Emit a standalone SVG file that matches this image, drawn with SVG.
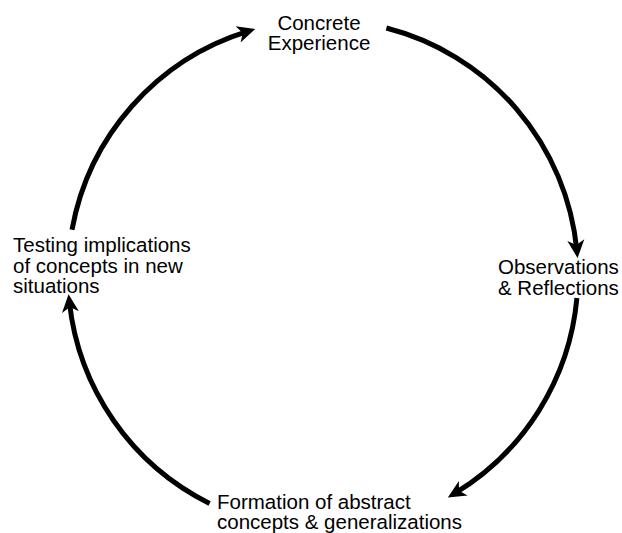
<svg xmlns="http://www.w3.org/2000/svg" width="622" height="533" viewBox="0 0 622 533">
<style>
.lbl{font-family:"Liberation Sans",Arial,sans-serif;font-size:20.5px;fill:#000}
.arc{fill:none;stroke:#000;stroke-width:5;marker-end:url(#ah)}
</style>
<defs>
<marker id="ah" markerUnits="userSpaceOnUse" markerWidth="20" markerHeight="20" viewBox="0 -10 20 20" refX="10" refY="0" orient="auto">
<path d="M0,-8.5 L18,0 L0,8.5 L5,0 Z" fill="#000"/>
</marker>
</defs>
<rect width="622" height="533" fill="#fff"/>
<g id="connectors">
<path class="arc" d="M386.4,28 A255,255 0 0 1 576.8,250.1"/>
<path class="arc" d="M576.9,298.1 A255,255 0 0 1 454.7,493.4"/>
<path class="arc" d="M209.6,503.4 A255,255 0 0 1 69.4,302.1"/>
<path class="arc" d="M72,229.8 A255,255 0 0 1 247.6,31.4"/>
</g>
<g id="concrete-experience">
<text class="lbl" x="319" y="29.5" text-anchor="middle">Concrete</text>
<text class="lbl" x="319" y="50" text-anchor="middle">Experience</text>
</g>
<g id="observations-reflections">
<text class="lbl" x="498" y="274">Observations</text>
<text class="lbl" x="498" y="294.5">&amp; Reflections</text>
</g>
<g id="formation-abstract-concepts">
<text class="lbl" x="217" y="508.5">Formation of abstract</text>
<text class="lbl" x="217" y="529">concepts &amp; generalizations</text>
</g>
<g id="testing-implications">
<text class="lbl" x="13" y="252">Testing implications</text>
<text class="lbl" x="13" y="272.5">of concepts in new</text>
<text class="lbl" x="13" y="293">situations</text>
</g>
</svg>
